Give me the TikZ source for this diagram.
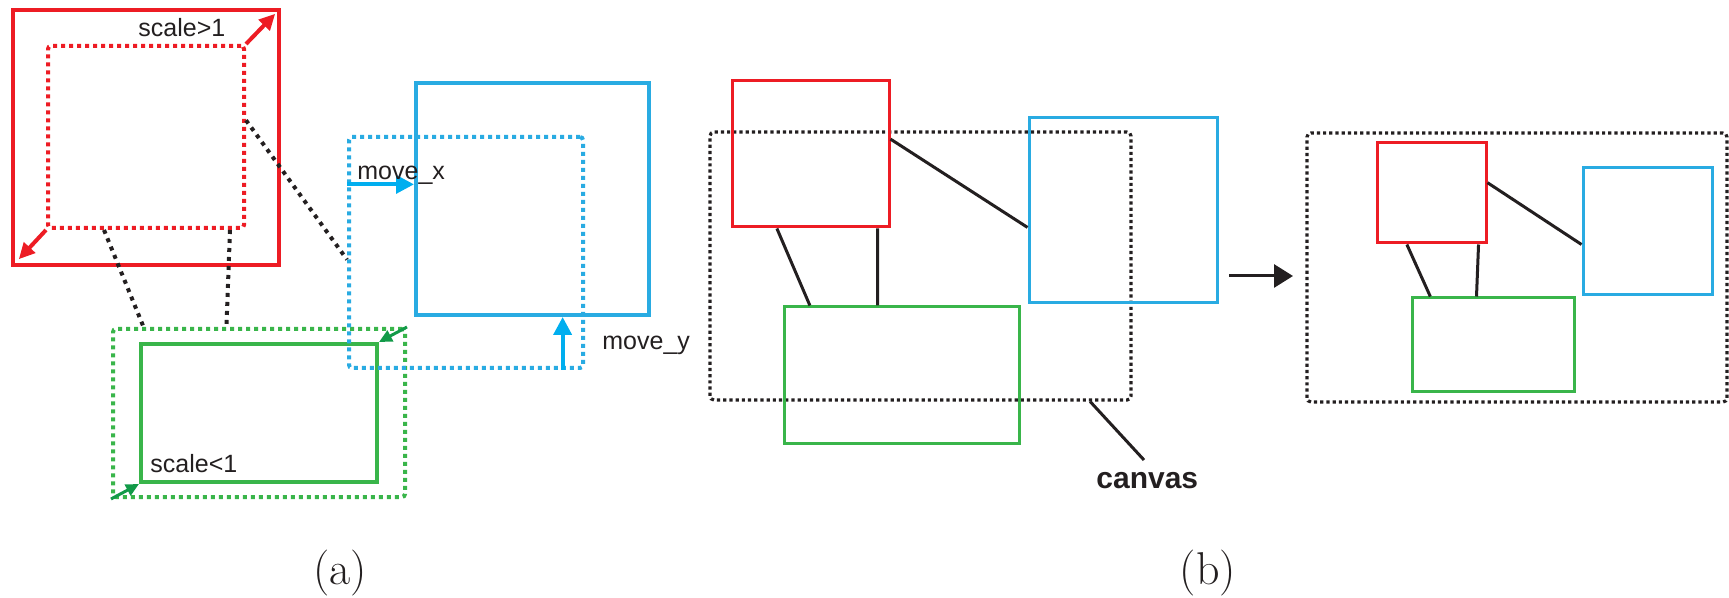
\documentclass[tikz,border=0pt]{standalone}
\usepackage{fontspec}
\newfontfamily\lab{Liberation Sans}
\usetikzlibrary{fit,calc,arrows.meta}
\definecolor{cred}{HTML}{ED1C24}
\definecolor{cblue}{HTML}{29ABE2}
\definecolor{carrblue}{HTML}{00AEEF}
\definecolor{cgreen}{HTML}{39B54A}
\definecolor{cdgreen}{HTML}{129A48}
\definecolor{cink}{HTML}{231F20}
\tikzset{
  box/.style={draw, inner sep=0pt, line join=miter},
  thickbox/.style={box, line width=2.2pt},
  thinbox/.style={box, line width=1.5pt},
  dotbox/.style={draw, inner sep=0pt, line width=2pt, dash pattern=on 2pt off 2pt, rounded corners=1.5pt},
  canvasbox/.style={draw=cink, inner sep=0pt, line width=1.6pt, dash pattern=on 1.6pt off 1.5pt, rounded corners=2pt},
  dotlink/.style={draw=cink, line width=2pt, dash pattern=on 2pt off 2.5pt},
  link/.style={draw=cink, line width=1.5pt},
  redarrow/.style={draw=cred, line width=2pt, -{Triangle[length=8pt,width=7.5pt]}},
  greenarrow/.style={draw=cdgreen, line width=1.5pt, -{Triangle[length=6.5pt,width=6pt]}},
  bluearrow/.style={draw=carrblue, line width=2pt, -{Triangle[length=9pt,width=9pt]}},
  blackarrow/.style={draw=cink, line width=1.5pt, -{Triangle[length=9.5pt,width=11.5pt]}},
  lbl/.style={text=cink, inner sep=0pt, font=\lab\fontsize{12.5pt}{14pt}\selectfont},
  caption/.style={text=cink, inner sep=0pt, font=\fontsize{23pt}{26pt}\selectfont}
}
\begin{document}
\begin{tikzpicture}[x=0.5pt, y=-0.5pt]
\useasboundingbox (0,0) rectangle (1729,598);

% ---------- (a): scaling and moving ----------
% scaling up
\node[dotbox, draw=cred, fit={(48,46) (244,228)}] (Rd) {};
\node[thickbox, draw=cred, fit={(13,10) (279,265)}] (R) {};
\draw[redarrow] (Rd.north east) -- ($(R.north east)+(-6,6)$);
\draw[redarrow] (Rd.south west) -- ($(R.south west)+(8,-8)$);
\node[lbl, anchor=base west] (sgt) at (138,37) {scale>1};

% scaling down
\node[dotbox, draw=cgreen, fit={(113,329) (405,497)}] (Gd) {};
\node[thickbox, line width=2pt, draw=cgreen, fit={(141,344) (377,482)}] (G) {};
\draw[greenarrow] (Gd.south west) -- (G.south west);
\draw[greenarrow] (Gd.north east) -- (G.north east);
\node[lbl, anchor=base west] (slt) at (150,473) {scale<1};

% moving
\node[dotbox, draw=cblue, fit={(349,137) (583,368)}] (Bd) {};
\node[thickbox, line width=2pt, draw=cblue, fit={(416,83) (649,315)}] (B) {};
\coordinate (mx) at ($(Bd.north west)!0.21!(Bd.south west)$);
\coordinate (my) at ($(Bd.south west)!0.906!(Bd.south east)$);
\draw[bluearrow] (mx) -- (mx -| B.west);
\draw[bluearrow] (my) -- (my |- B.south);
\node[lbl, anchor=base west] (mxl) at (357,180) {move\_x};
\node[lbl, anchor=base west] (myl) at (602,350) {move\_y};

% links between the original boxes
\draw[dotlink] ($(Rd.north east)!0.41!(Rd.south east)$) -- ($(Bd.north west)!0.53!(Bd.south west)$);
\draw[dotlink] ($(Rd.south west)!0.29!(Rd.south east)$) -- ($(Gd.north west)!0.11!(Gd.north east)$);
\draw[dotlink] ($(Rd.south west)!0.92!(Rd.south east)$) -- ($(Gd.north west)!0.39!(Gd.north east)$);

% ---------- (b): fitting to the canvas ----------
\node[canvasbox, fit={(710,132) (1131,400)}] (C) {};
\node[thinbox, draw=cred, fit={(732,81) (889,227)}] (R2) {};
\node[thinbox, draw=cblue, fit={(1029,118) (1217,303)}] (B2) {};
\node[thinbox, draw=cgreen, fit={(784,307) (1019,444)}] (G2) {};
\draw[link] ($(R2.north east)!0.40!(R2.south east)$) -- ($(B2.north west)!0.59!(B2.south west)$);
\draw[link] ($(R2.south west)!0.29!(R2.south east)$) -- ($(G2.north west)!0.115!(G2.north east)$);
\draw[link] ($(R2.south west)!0.92!(R2.south east)$) -- ($(G2.north west)!0.40!(G2.north east)$);
\coordinate (cv) at (1144,460);
\draw[link] ($(C.south west)!0.90!(C.south east)$) -- (cv);
\node[lbl, anchor=base west, font=\lab\bfseries\fontsize{15pt}{17pt}\selectfont] (cvl) at (1096,488) {canvas};

\coordinate (arrS) at (1229,276);
\coordinate (arrE) at (1293,276);
\draw[blackarrow] (arrS) -- (arrE);

\node[canvasbox, fit={(1307,133) (1727,402)}] (C3) {};
\node[thinbox, draw=cred, fit={(1377,143) (1486,243)}] (R3) {};
\node[thinbox, draw=cblue, fit={(1583,168) (1712,295)}] (B3) {};
\node[thinbox, draw=cgreen, fit={(1412,298) (1574,392)}] (G3) {};
\draw[link] ($(R3.north east)!0.40!(R3.south east)$) -- ($(B3.north west)!0.60!(B3.south west)$);
\draw[link] ($(R3.south west)!0.28!(R3.south east)$) -- ($(G3.north west)!0.12!(G3.north east)$);
\draw[link] ($(R3.south west)!0.92!(R3.south east)$) -- ($(G3.north west)!0.40!(G3.north east)$);

% ---------- captions ----------
\node[caption] (capa) at (340,573) {(a)};
\node[caption] (capb) at (1208,573) {(b)};
\end{tikzpicture}
\end{document}
